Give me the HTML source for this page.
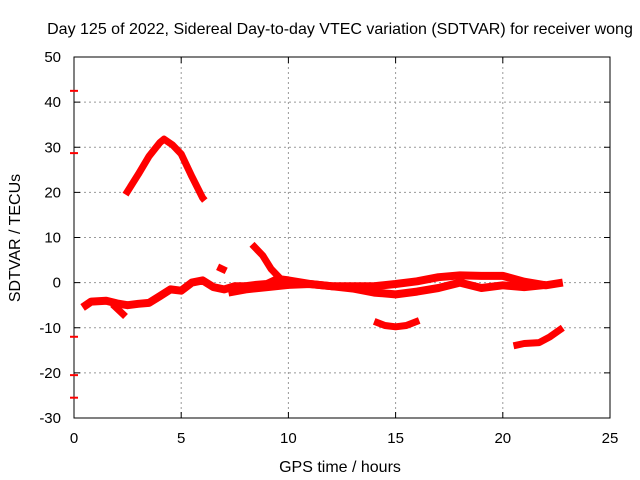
<!DOCTYPE html>
<html><head><meta charset="utf-8"><style>
body{margin:0;background:#fff;}
svg{display:block;font-family:"Liberation Sans",sans-serif;}
</style></head><body>
<svg id="chart" width="640" height="480" viewBox="0 0 640 480">
<rect width="640" height="480" fill="#fff"/>
<text x="340" y="34" font-size="16" text-anchor="middle">Day 125 of 2022, Sidereal Day-to-day VTEC variation (SDTVAR) for receiver wong</text>
<g id="grid"></g>
<g id="axes"></g>
<g id="series"></g>
<text x="340" y="472" font-size="16" text-anchor="middle">GPS time / hours</text>
<text transform="translate(20,238) rotate(-90)" font-size="16" text-anchor="middle">SDTVAR / TECUs</text>
</svg>
<script>
const xTicks=[0,5,10,15,20,25];
const yTicks=[50,40,30,20,10,0,-10,-20,-30];
const hump=[[2.4,19.5],[3,24],[3.5,28],[4,31],[4.2,31.8],[4.6,30.5],[5,28.5],[5.5,23.5],[6,18.8],[6.1,18.2]];
const mainBand=[[0.4,-5.5],[0.8,-4.2],[1.5,-4],[2,-4.6],[2.5,-5],[3,-4.7],[3.5,-4.5],[4,-3],[4.5,-1.5],[5,-1.8],[5.5,0],[6,0.5],[6.5,-1],[7,-1.5],[7.5,-0.8],[8,-0.8],[8.5,-0.5],[9,-0.3],[9.5,0.8],[10,0.5],[11,-0.3],[12,-0.8],[13,-0.8],[14,-0.8],[15,-0.3],[16,0.3],[17,1.2],[18,1.6],[19,1.5],[20,1.5],[21,0.2],[22,-0.6],[22.8,0]];
const lowerBand=[[7.2,-2.2],[8,-1.5],[9,-1],[10,-0.5],[11,-0.3],[12,-0.8],[13,-1.3],[14,-2.2],[15,-2.6],[16,-2],[17,-1.2],[18,0],[19,-1.2],[20,-0.6],[21,-1],[22,-0.5]];
const branch=[[1.8,-4.8],[2.4,-7.5]];
const spike=[[8.3,8.5],[8.8,6],[9.2,3],[9.6,1]];
const piece=[[6.7,3.5],[7.1,2.6]];
const trough=[[14,-8.6],[14.5,-9.5],[15,-9.8],[15.5,-9.5],[16.1,-8.4]];
const tail=[[20.5,-14],[21,-13.5],[21.7,-13.3],[22.2,-12],[22.8,-10]];
const edgeMarks=[42.5,28.7,-12,-20.5,-25.5];
const X0=74,X1=610,Y0=418,Y1=57;
const xs=v=>X0+(v-0)/25*(X1-X0);
const ys=v=>Y0-(v+30)/80*(Y0-Y1);
const NS='http://www.w3.org/2000/svg';
function mk(t,a,p){const e=document.createElementNS(NS,t);for(const k in a)e.setAttribute(k,a[k]);p.appendChild(e);return e;}
const grid=document.getElementById('grid'),axes=document.getElementById('axes'),ser=document.getElementById('series');
xTicks.forEach(t=>{
 if(t>0&&t<25){const l=mk('line',{x1:xs(t),x2:xs(t),y1:Y1,y2:Y0,stroke:'#999','stroke-dasharray':'2,3'},grid);
 
 }
 const tl=mk('text',{x:xs(t),y:Y0+25,'font-size':15,'text-anchor':'middle'},axes);tl.textContent=t;
 
 
 mk('line',{x1:xs(t),x2:xs(t),y1:Y0,y2:Y0-6,stroke:'#000'},axes);
 mk('line',{x1:xs(t),x2:xs(t),y1:Y1,y2:Y1+6,stroke:'#000'},axes);
});
yTicks.forEach(t=>{
 if(t>-30&&t<50){const l=mk('line',{x1:X0,x2:X1,y1:ys(t),y2:ys(t),stroke:'#999','stroke-dasharray':'2,3'},grid);
 
 }
 const tl=mk('text',{x:X0-13,y:ys(t)+5,'font-size':15,'text-anchor':'end'},axes);tl.textContent=t;
 
 
 mk('line',{x1:X0,x2:X0+6,y1:ys(t),y2:ys(t),stroke:'#000'},axes);
 mk('line',{x1:X1,x2:X1-6,y1:ys(t),y2:ys(t),stroke:'#000'},axes);
});
const frame=mk('rect',{x:X0,y:Y1,width:X1-X0,height:Y0-Y1,fill:'none',stroke:'#000'},axes);


const all={hump:hump,mainBand:mainBand,lowerBand:lowerBand,branch:branch,spike:spike,piece:piece,trough:trough,tail:tail};
for(const k in all){
 const pts=all[k].map(p=>xs(p[0]).toFixed(1)+','+ys(p[1]).toFixed(1)).join(' ');
 const pl=mk('polyline',{points:pts,fill:'none',stroke:'#f00','stroke-width':(k==='mainBand'||k==='lowerBand')?8:7,'stroke-linejoin':'round'},ser);
 
 
}
edgeMarks.forEach(v=>{
 const l=mk('line',{x1:X0-4,x2:X0+4,y1:ys(v),y2:ys(v),stroke:'#f00','stroke-width':2},ser);
 
 
});
</script>
</body></html>
